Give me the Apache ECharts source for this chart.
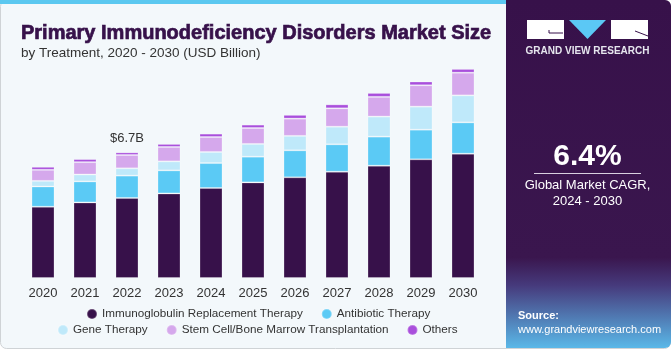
<!DOCTYPE html>
<html>
<head>
<meta charset="utf-8">
<script src="https://cdn.jsdelivr.net/npm/echarts@6/dist/echarts.min.js"></script>
<style>
html,body{margin:0;padding:0;background:#fff;}
#c{width:671px;height:350px;}
</style>
</head>
<body>
<div id="c"></div>
<script>
const years = ['2020','2021','2022','2023','2024','2025','2026','2027','2028','2029','2030'];
const immunoglobulin = [3.80, 4.03, 4.27, 4.51, 4.80, 5.10, 5.37, 5.67, 5.99, 6.33, 6.63];
const antibiotic     = [1.08, 1.12, 1.19, 1.23, 1.33, 1.37, 1.44, 1.46, 1.55, 1.58, 1.67];
const gene           = [0.30, 0.37, 0.39, 0.48, 0.59, 0.68, 0.77, 0.94, 1.07, 1.23, 1.44];
const stemCell       = [0.59, 0.66, 0.71, 0.77, 0.80, 0.85, 0.92, 0.98, 1.05, 1.14, 1.21];
const others         = [0.16, 0.16, 0.14, 0.16, 0.18, 0.18, 0.20, 0.21, 0.21, 0.20, 0.20];
const seriesNames = ['Immunoglobulin Replacement Therapy','Antibiotic Therapy','Gene Therapy','Stem Cell/Bone Marrow Transplantation','Others'];
const colors = ['#37114a','#5bcaf5','#bfe9fa','#d5a8ec','#a94fdc'];
const highlightLabel = '$6.7B';
const highlightIndex = 2;

const chart = echarts.init(document.getElementById('c'), null, {renderer:'canvas'});
const dataSets = [immunoglobulin, antibiotic, gene, stemCell, others];
const series = dataSets.map((d, i) => ({
  name: seriesNames[i],
  type: 'bar',
  stack: 'total',
  barWidth: 23,
  data: d.map((v, j) => {
    const o = {value: v};
    if (i === 4 && j === highlightIndex) {
      o.label = {show: true, position: 'top', distance: 7, formatter: highlightLabel,
        color: '#333', fontSize: 13, fontFamily: 'Liberation Sans'};
    }
    return o;
  }),
  itemStyle: {color: colors[i], borderColor: 'rgba(255,255,255,0.25)', borderWidth: 1},
  emphasis: {disabled: true}
}));

const font = 'Liberation Sans';
chart.setOption({
  animation: false,
  backgroundColor: 'transparent',
  graphic: [
    {type:'rect', z:-10, shape:{x:0.5,y:0.5,width:670,height:348,r:6}, style:{fill:'#f3f8fb', stroke:'#cfd3d6', lineWidth:1}},
    {type:'rect', z:-9, shape:{x:0,y:0,width:512,height:4}, style:{fill:'#5bc8f0'}},
    {type:'rect', z:-8, shape:{x:506,y:0,width:165,height:348,r:[0,6,6,0]}, style:{
      fill: new echarts.graphic.LinearGradient(0,0,0,1,[
        {offset:0, color:'#37114a'},{offset:0.74, color:'#3a164e'},
        {offset:0.82, color:'#463a7c'},{offset:1, color:'#5ab8e8'}])}},
    // logo
    {type:'rect', shape:{x:527,y:20,width:37,height:19}, style:{fill:'#ffffff'}},
    {type:'polyline', shape:{points:[[549,30],[549,33],[563,33]]}, style:{stroke:'#37114a', lineWidth:1, fill:null}},
    {type:'polygon', shape:{points:[[569,20],[606,20],[587.5,39]]}, style:{fill:'#5bc8f5'}},
    {type:'rect', shape:{x:611,y:20,width:37,height:19}, style:{fill:'#ffffff'}},
    {type:'line', shape:{x1:635,y1:31,x2:648,y2:36}, style:{stroke:'#37114a', lineWidth:1}},
    {type:'text', style:{x:587.5,y:51,text:'GRAND VIEW RESEARCH', fill:'#e6e6ee', font:'bold 10px Liberation Sans', align:'center', verticalAlign:'middle'}},
    {type:'text', style:{x:587.5,y:157,text:'6.4%', fill:'#ffffff', font:'bold 30px Liberation Sans', align:'center', verticalAlign:'middle'}},
    {type:'line', shape:{x1:534,y1:173.5,x2:641,y2:173.5}, style:{stroke:'#d8d0e0', lineWidth:1}},
    {type:'text', style:{x:587.5,y:185,text:'Global Market CAGR,', fill:'#ffffff', font:'13px Liberation Sans', align:'center', verticalAlign:'middle'}},
    {type:'text', style:{x:587.5,y:201,text:'2024 - 2030', fill:'#ffffff', font:'13px Liberation Sans', align:'center', verticalAlign:'middle'}},
    {type:'text', style:{x:518,y:316,text:'Source:', fill:'#ffffff', font:'bold 11px Liberation Sans', align:'left', verticalAlign:'middle'}},
    {type:'text', style:{x:518,y:330,text:'www.grandviewresearch.com', fill:'#ffffff', font:'11px Liberation Sans', align:'left', verticalAlign:'middle'}}
  ],
  title: {
    text: 'Primary Immunodeficiency Disorders Market Size',
    subtext: 'by Treatment, 2020 - 2030 (USD Billion)',
    left: 16, top: 18, itemGap: 3,
    textStyle: {fontFamily: font, fontSize: 20, fontWeight: 'bold', color: '#37114a',
      textBorderColor: '#37114a', textBorderWidth: 0.7},
    subtextStyle: {fontFamily: font, fontSize: 13.5, color: '#333'}
  },
  legend: [
    {data: seriesNames.slice(0,2), left: 81, top: 303, icon: 'circle', itemWidth: 10, itemHeight: 10, itemGap: 18,
     textStyle: {fontFamily: font, fontSize: 11.7, color: '#333'}},
    {data: seriesNames.slice(2), left: 52, top: 319, icon: 'circle', itemWidth: 10, itemHeight: 10, itemGap: 18,
     textStyle: {fontFamily: font, fontSize: 11.7, color: '#333'}}
  ],
  grid: {left: 22, right: 187, top: 53, bottom: 72, containLabel: false},
  xAxis: {
    type: 'category', data: years,
    axisLine: {show: false}, axisTick: {show: false},
    axisLabel: {fontFamily: font, fontSize: 13, color: '#333', margin: 9}
  },
  yAxis: {type: 'value', min: 0, max: 12, show: false, splitLine: {show: false}},
  series: series
});
</script>
</body>
</html>
